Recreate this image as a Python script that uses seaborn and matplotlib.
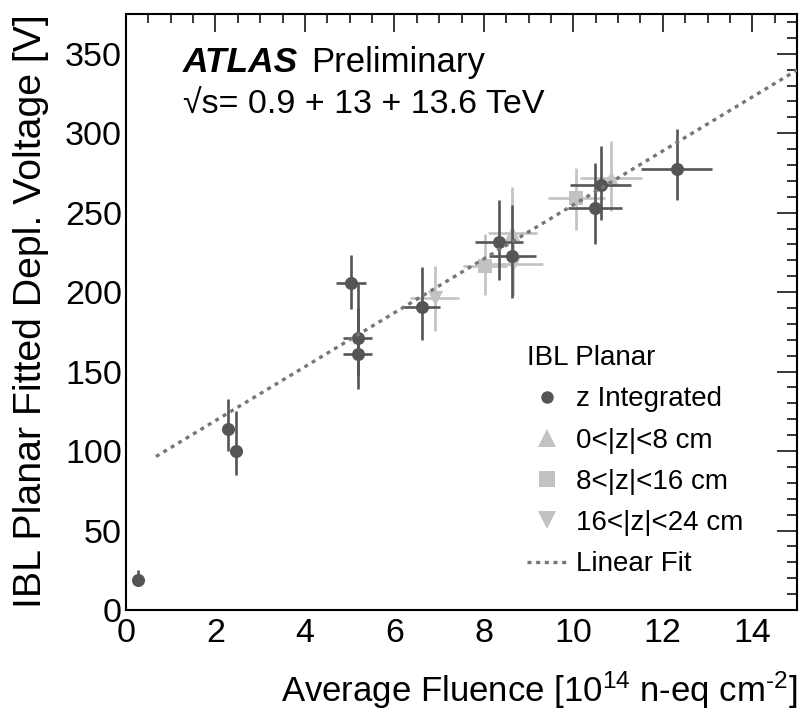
import numpy as np
import pandas as pd
import matplotlib
matplotlib.use("Agg")
import matplotlib.pyplot as plt
from matplotlib.lines import Line2D
from matplotlib.ticker import MultipleLocator
import seaborn as sns

sns.set_theme(style="white")
plt.rcParams['font.family'] = ['Liberation Sans', 'DejaVu Sans']
plt.rcParams['mathtext.fontset'] = 'custom'
plt.rcParams['mathtext.rm'] = 'Liberation Sans'
plt.rcParams['mathtext.it'] = 'Liberation Sans:italic'
plt.rcParams['mathtext.bf'] = 'Liberation Sans:bold'
for k in ['text.color', 'axes.labelcolor', 'xtick.color', 'ytick.color', 'axes.edgecolor']:
    plt.rcParams[k] = 'black'

# ---------------- data ----------------
# z integrated
zi_x = [0.27, 2.29, 2.45, 5.03, 5.18, 5.18, 6.61, 8.34, 8.64, 10.48, 10.61, 12.31]
zi_y = [19, 114, 100, 205.6, 171.4, 161.3, 190.9, 231.7, 222.6, 253.1, 267.2, 277.7]
zi_xerr = [0.05, 0.05, 0.05, 0.33, 0.33, 0.33, 0.42, 0.53, 0.53, 0.60, 0.69, 0.80]
zi_yerr_lo = [4, 14, 15, 16, 24, 22, 21, 24, 26, 23, 22, 20]
zi_yerr_hi = [6, 19, 25, 18, 34, 29, 25, 26, 32, 28, 25, 25]

# 0<|z|<8 cm
z1_x = [8.64, 10.84]
z1_y = [237, 272]
z1_xerr = [0.55, 0.69]
z1_yerr_lo = [25, 21]
z1_yerr_hi = [29, 23]

# 8<|z|<16 cm
z2_x = [8.03, 10.07]
z2_y = [216.3, 259.4]
z2_xerr = [0.49, 0.63]
z2_yerr_lo = [18, 20]
z2_yerr_hi = [20, 19]

# 16<|z|<24 cm
z3_x = [6.90, 8.66]
z3_y = [196.4, 218]
z3_xerr = [0.55, 0.67]
z3_yerr_lo = [21, 20]
z3_yerr_hi = [20, 22]

# linear fit
fit_slope = 16.97
fit_intercept = 85.2
fit_xrange = [0.67, 15.0]

legend_title = "IBL Planar"
labels = ["z Integrated", "0<|z|<8 cm", "8<|z|<16 cm", "16<|z|<24 cm", "Linear Fit"]

DARK = "#555555"
LIGHT = "#c2c2c2"
FITC = "#777777"

# ---------------- figure ----------------
W, H = 801, 713
fig = plt.figure(figsize=(W / 100, H / 100), dpi=100)
L, R, T, B = 126, 797, 14, 610
ax = fig.add_axes([L / W, 1 - B / H, (R - L) / W, (B - T) / H])
ax.set_facecolor("white")


def draw(xs, ys, xe, ylo, yhi, color, marker, ms, z):
    ax.errorbar(xs, ys, xerr=xe, yerr=[ylo, yhi], fmt="none", ecolor=color,
                elinewidth=1.9, capsize=0, zorder=z)
    df = pd.DataFrame({"x": xs, "y": ys})
    sns.scatterplot(data=df, x="x", y="y", ax=ax, color=color, marker=marker,
                    s=ms ** 2, linewidth=0, zorder=z + 0.1, legend=False)


draw(z1_x, z1_y, z1_xerr, z1_yerr_lo, z1_yerr_hi, LIGHT, "^", 11, 2)
draw(z2_x, z2_y, z2_xerr, z2_yerr_lo, z2_yerr_hi, LIGHT, "s", 10, 2)
draw(z3_x, z3_y, z3_xerr, z3_yerr_lo, z3_yerr_hi, LIGHT, "v", 11, 2)
draw(zi_x, zi_y, zi_xerr, zi_yerr_lo, zi_yerr_hi, DARK, "o", 9.4, 3)

FIT_LS = (0, (1.2, 1.4))
fx = np.linspace(fit_xrange[0], fit_xrange[1], 50)
fit_df = pd.DataFrame({"x": fx, "y": fit_intercept + fit_slope * fx})
sns.lineplot(data=fit_df, x="x", y="y", ax=ax, color=FITC, lw=2.4,
             linestyle=FIT_LS, zorder=4, legend=False)

ax.set_xlim(0, 15)
ax.set_ylim(0, 375)
ax.xaxis.set_major_locator(MultipleLocator(2))
ax.xaxis.set_minor_locator(MultipleLocator(0.5))
ax.yaxis.set_major_locator(MultipleLocator(50))
ax.yaxis.set_minor_locator(MultipleLocator(10))
ax.tick_params(which="both", direction="in", top=True, right=True,
               width=1.1, color="black", labelsize=24.5, labelcolor="black")
ax.tick_params(axis="x", which="major", length=13, pad=6)
ax.tick_params(axis="x", which="minor", length=6.5)
ax.tick_params(axis="y", which="major", length=14.5, pad=3)
ax.tick_params(axis="y", which="minor", length=7.2)
for s in ax.spines.values():
    s.set_visible(True)
    s.set_color("black")
    s.set_linewidth(1.5)

ax.set_xlabel(r"Average Fluence [10$^{14}$ n-eq cm$^{\text{-}2}$]", fontsize=25,
              loc="right")
ax.xaxis.set_label_coords(1.0, -0.10)
ax.xaxis.label.set_va("top")
ax.set_ylabel("IBL Planar Fitted Depl. Voltage [V]", fontsize=28.3, loc="top")
ax.yaxis.set_label_coords(-0.115, 1.0)

ax.text((183 - L) / (R - L), (B - 72) / (B - T), "ATLAS", transform=ax.transAxes,
        fontsize=25.5, fontweight="bold", fontstyle="italic", ha="left",
        va="baseline")
ax.text((311 - L) / (R - L), (B - 72) / (B - T), "Preliminary",
        transform=ax.transAxes, fontsize=25, ha="left", va="baseline")
ax.text((183 - L) / (R - L), (B - 114) / (B - T), "√s= 0.9 + 13 + 13.6 TeV",
        transform=ax.transAxes, fontsize=24.5, ha="left", va="baseline")

handles = [
    Line2D([], [], color=DARK, marker="o", ls="none", ms=9, mew=0),
    Line2D([], [], color=LIGHT, marker="^", ls="none", ms=13, mew=0),
    Line2D([], [], color=LIGHT, marker="s", ls="none", ms=12, mew=0),
    Line2D([], [], color=LIGHT, marker="v", ls="none", ms=13, mew=0),
    Line2D([], [], color=FITC, lw=2.4, ls=FIT_LS),
]
leg = ax.legend(handles, labels, title=legend_title, loc="upper left",
                bbox_to_anchor=((527 - L) / (R - L), (B - 345) / (B - T)),
                frameon=False, fontsize=20, title_fontsize=20,
                handlelength=1.45, handletextpad=0.3, labelspacing=0.55,
                borderpad=0, borderaxespad=0, alignment="left")

fig.savefig("out.png", dpi=100, facecolor="white")
